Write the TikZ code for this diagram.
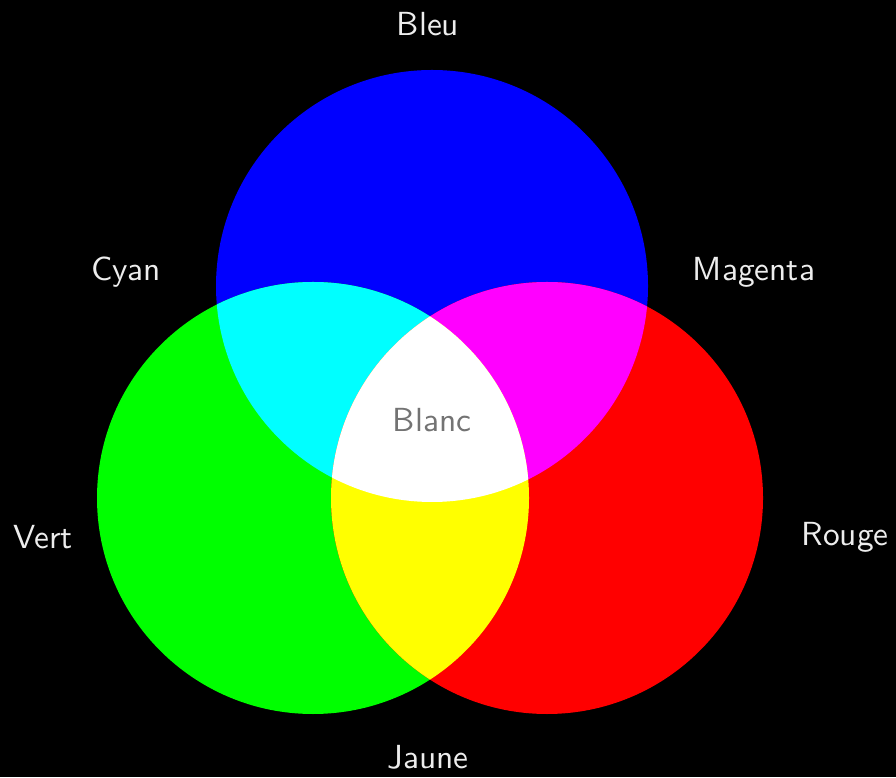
\documentclass[tikz,border=0pt]{standalone}
\usepackage{tikz}
\usetikzlibrary{positioning}

\definecolor{cyanRVB}{RGB}{0,255,255}
\definecolor{magentaRVB}{RGB}{255,0,255}
\definecolor{jauneRVB}{RGB}{255,255,0}

\def\cercleB{(4.32,4.91) circle (2.16)}
\def\cercleV{(3.13,2.79) circle (2.16)}
\def\cercleR{(5.47,2.79) circle (2.16)}

\begin{document}
\begin{tikzpicture}[
    label/.style={text=white!93!black, font=\sffamily\fontsize{9.5}{11}\selectfont},
    centre/.style={text=black!55, font=\sffamily\fontsize{9.5}{11}\selectfont}
]
    \fill[black] (0,0) rectangle (8.96,7.77);
    \useasboundingbox (0,0) rectangle (8.96,7.77);

    % couleurs primaires
    \fill[blue] \cercleB;
    \fill[green] \cercleV;
    \fill[red] \cercleR;

    % couleurs secondaires
    \begin{scope}
        \clip \cercleB;
        \fill[cyanRVB] \cercleV;
        \fill[magentaRVB] \cercleR;
    \end{scope}
    \begin{scope}
        \clip \cercleV;
        \fill[jauneRVB] \cercleR;
    \end{scope}
    \begin{scope}
        \clip \cercleB;
        \clip \cercleV;
        \fill[white] \cercleR;
    \end{scope}

    \node[label] (bleu) at (4.28,7.53) {Bleu};
    \node[label] (cyan) at (1.26,5.05) {Cyan};
    \node[label] (magenta) at (7.54,5.05) {Magenta};
    \node[label] (vert) at (0.43,2.40) {Vert};
    \node[label] (rouge) at (8.45,2.40) {Rouge};
    \node[label] (jaune) at (4.28,0.20) {Jaune};
    \node[centre] (blanc) at (4.32,3.57) {Blanc};
\end{tikzpicture}
\end{document}
